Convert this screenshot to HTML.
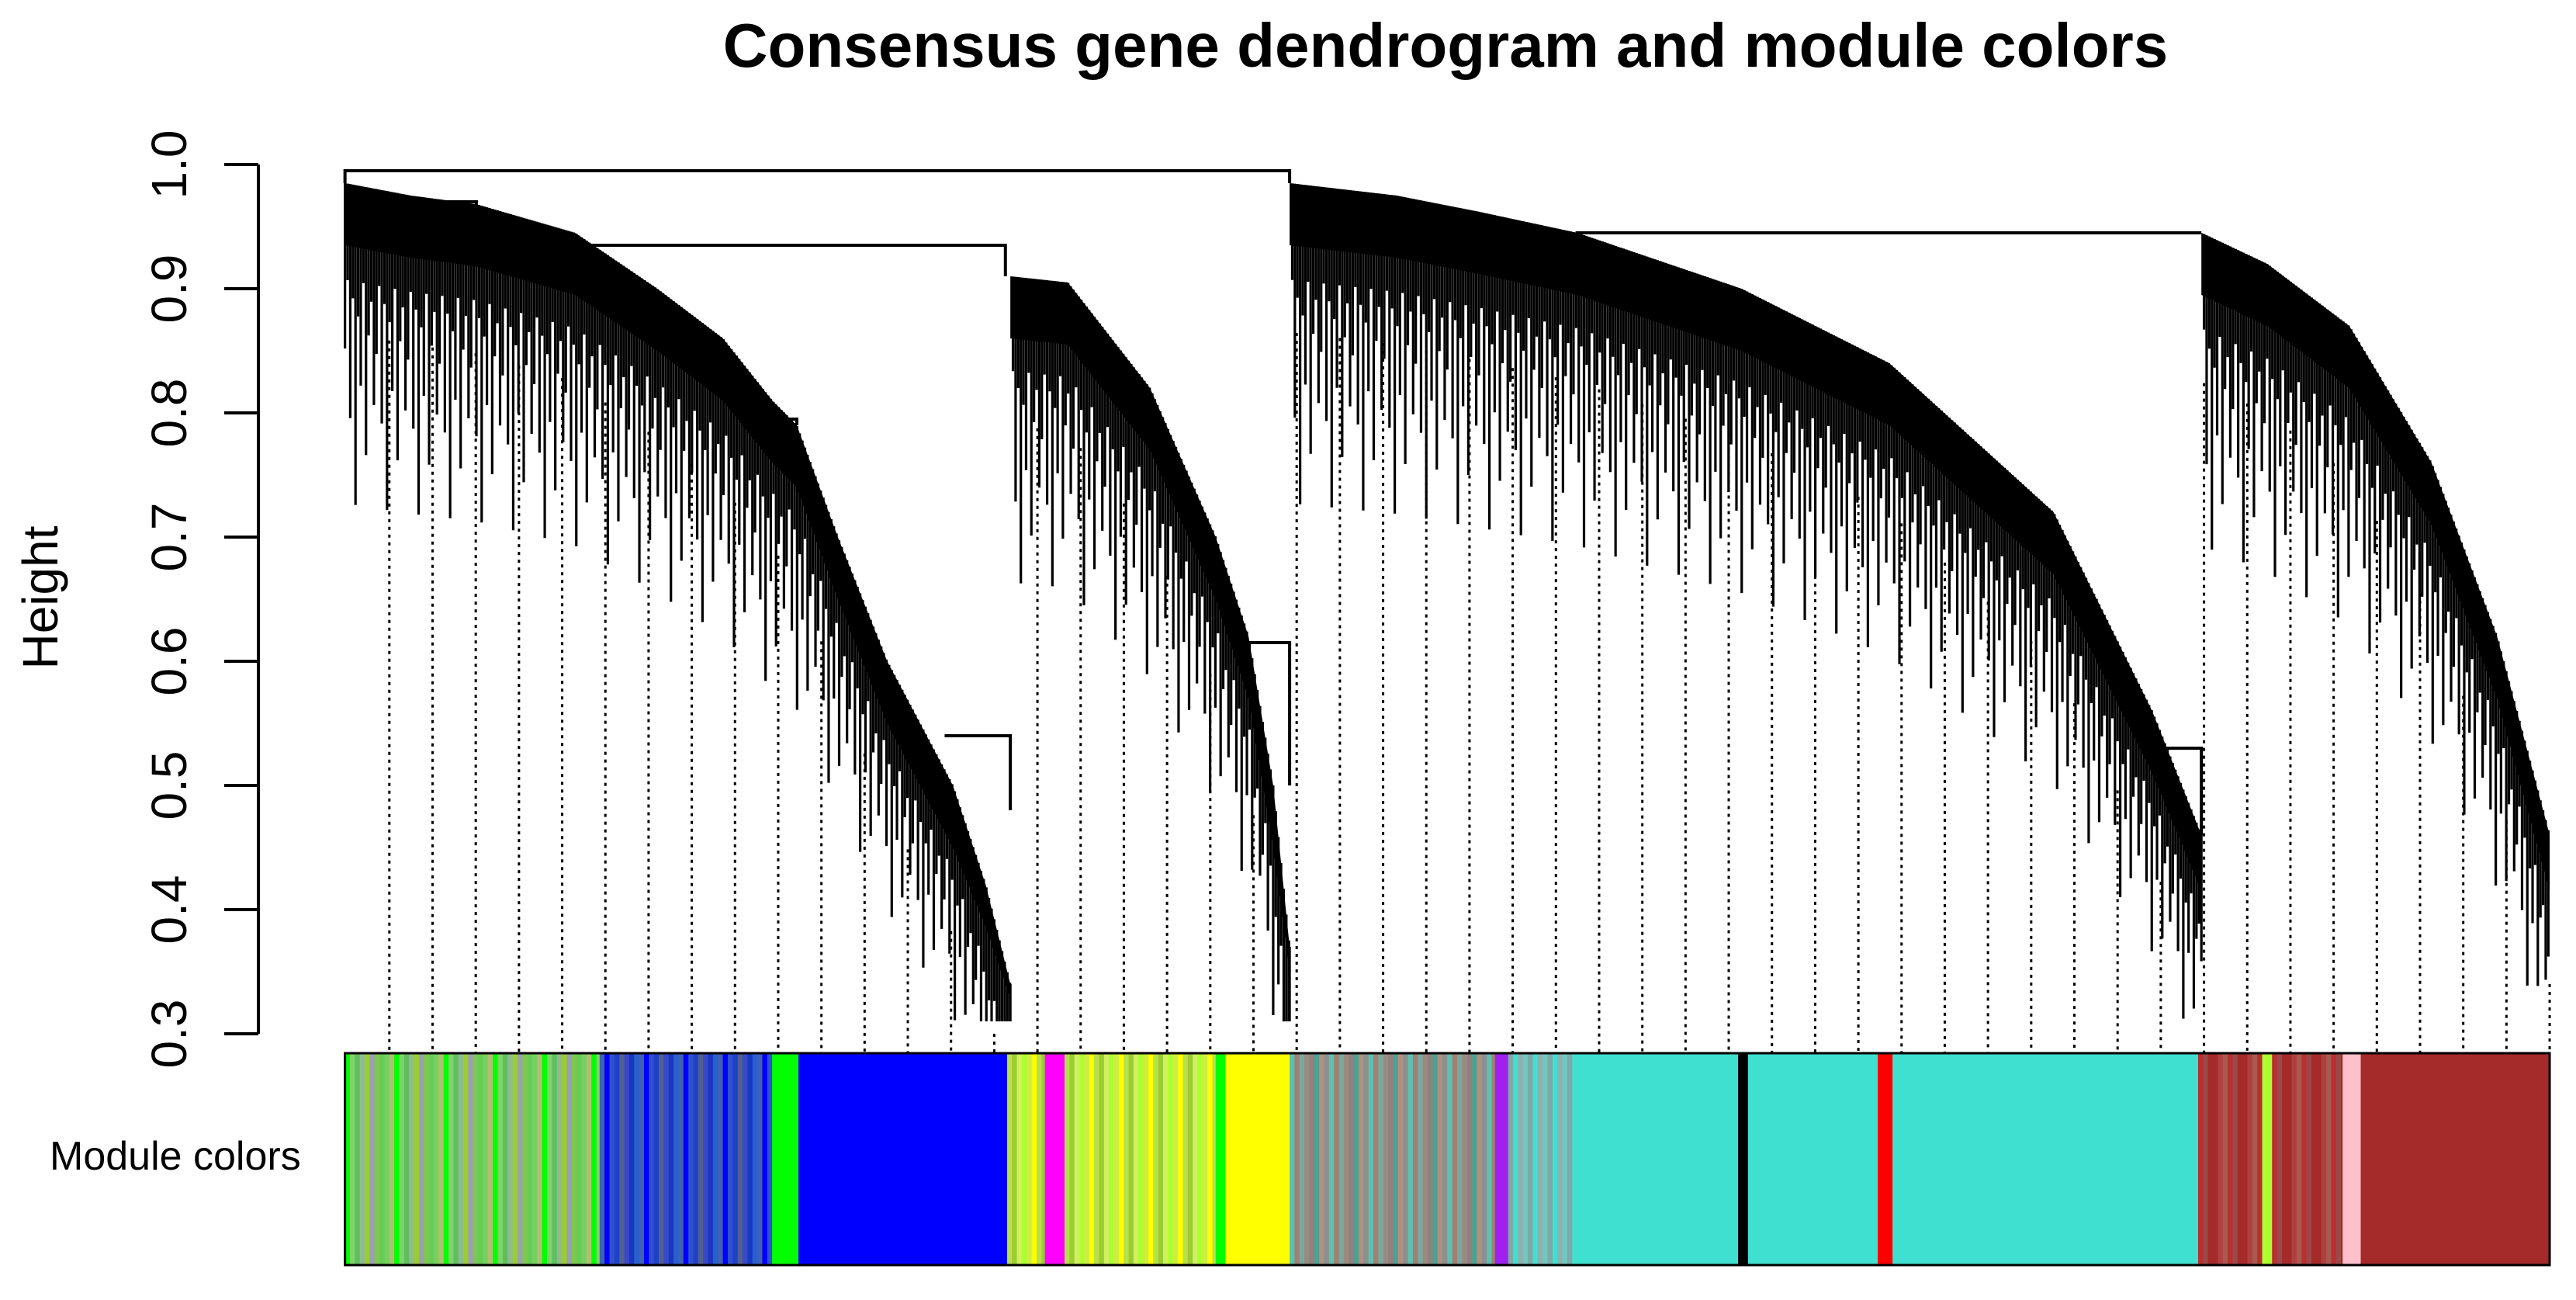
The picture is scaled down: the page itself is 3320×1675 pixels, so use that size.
<!DOCTYPE html>
<html><head><meta charset="utf-8"><style>
html,body{margin:0;padding:0;background:#fff;width:3320px;height:1675px;overflow:hidden}
svg{display:block}
text{font-family:"Liberation Sans",Arial,sans-serif;fill:#000}
</style></head><body>
<svg id="chart" width="3320" height="1675" viewBox="0 0 3320 1675" xmlns="http://www.w3.org/2000/svg">
<text x="1863" y="86" font-size="80" font-weight="bold" text-anchor="middle">Consensus gene dendrogram and module colors</text>
<text transform="translate(74,770) rotate(-90)" font-size="64" text-anchor="middle">Height</text>
<text x="64" y="1507" font-size="52">Module colors</text>
<g id="axis"></g>
<g id="dots"></g>
<g id="tree"></g>
<g id="bar"></g>
</svg>
<script>
// ---- data ----
const yTicks=[0.3,0.4,0.5,0.6,0.7,0.8,0.9,1.0];
const yTickLabels=["0.3","0.4","0.5","0.6","0.7","0.8","0.9","1.0"];
const clusterA=[[210,0.985],[250,0.975],[290,0.968],[350,0.945],[400,0.9],[440,0.86],[470,0.81],[485,0.79],[510,0.7],[540,0.6],[580,0.5],[600,0.42],[615,0.34]];
const clusterC=[[615,0.91],[650,0.905],[700,0.82],[740,0.7],[760,0.62],[775,0.5],[785,0.37]];
const clusterD=[[785,0.985],[850,0.975],[900,0.962],[960,0.945],[1060,0.9],[1150,0.84],[1250,0.72],[1310,0.56],[1340,0.46]];
const clusterE=[[1340,0.945],[1380,0.92],[1430,0.87],[1480,0.76],[1520,0.62],[1552,0.46]];
const merges=[[210,785,0.995,0.985,0.985],[360,612,0.935,0.93,0.91],[960,1340,0.945,0.94,0.945],[475,485,0.795,0.79,0.79],[575,615,0.54,0.54,0.48],[760,785,0.615,0.615,0.5],[1310,1340,0.53,0.53,0.46],[250,290,0.97,0.97,0.965]];
const hairPattern=[0.06,0.02,0.1,0.03,0.15,0.04,0.08,0.02,0.12,0.05,0.03,0.09];
const modules=[[210,365,"mixG"],[365,470,"mixB"],[470,486,"#00ff00"],[486,613,"#0000ff"],[613,636,"mixY"],[636,648,"#ff00ff"],[648,740,"mixY"],[740,746,"#00ff00"],[746,785,"#ffff00"],[785,910,"mixT"],[910,918,"#a020f0"],[918,960,"mixT2"],[960,1058,"#40e0d0"],[1058,1064,"#000000"],[1064,1143,"#40e0d0"],[1143,1152,"#ff0000"],[1152,1338,"#40e0d0"],[1338,1377,"mixR"],[1377,1383,"#adff2f"],[1383,1426,"mixR"],[1426,1437,"#ffc0cb"],[1437,1552,"#a52a2a"]];
const mixes={mixG:["#7fd36a","#9acd32","#66cc55","#00ff00","#8fbc8f","#7ec850","#b0c070","#5fbf5f","#9aa0b0","#76d060"],
 mixB:["#2040c8","#3050d0","#0000ff","#4060b0","#2a5fd0","#1838c0","#3a48c8","#506090"],
 mixY:["#adff2f","#ccee44","#ffff00","#b8e04a","#9acd32","#d0f060"],
 mixT:["#9a8a80","#7aa8a0","#a08070","#60c0b0","#8a9090","#b09080","#50a090","#908080"],
 mixT2:["#70c8c0","#90b0b0","#40e0d0","#80a8a8"],
 mixR:["#a52a2a","#b04040","#a85a50","#b83030","#9a4a4a","#a52a2a"]};
const guideX=[];for(let i=0;i<51;i++)guideX.push(237+i*26.3);

const sx=v=>v*2.1173;
const sy=h=>212+(1-h)*1600;
const NS="http://www.w3.org/2000/svg";
function mk(tag,attrs,parent){const e=document.createElementNS(NS,tag);for(const k in attrs)e.setAttribute(k,attrs[k]);parent.appendChild(e);return e;}

const ax=document.getElementById('axis');
mk('line',{x1:333,x2:333,y1:sy(1),y2:sy(0.3),stroke:'#000','stroke-width':4},ax);
yTicks.forEach((t,i)=>{
  const l=mk('line',{x1:289,x2:333,y1:sy(t),y2:sy(t),stroke:'#000','stroke-width':4},ax);
  
  
  const tx=mk('text',{transform:`translate(240,${sy(t)}) rotate(-90)`,'font-size':64,'text-anchor':'middle'},ax);
  tx.textContent=yTickLabels[i];
  
  
});

const clusters=[clusterA,clusterC,clusterD,clusterE];
function envAt(x){for(const c of clusters){if(x>=c[0][0]&&x<=c[c.length-1][0]){for(let i=0;i<c.length-1;i++){if(x>=c[i][0]&&x<=c[i+1][0]){const f=(x-c[i][0])/((c[i+1][0]-c[i][0])||1);return c[i][1]+f*(c[i+1][1]-c[i][1]);}}}}return 0.9;}

const dg=document.getElementById('dots');
guideX.forEach(x=>{
  const h=envAt(x)-0.12;
  const l=mk('line',{x1:sx(x),x2:sx(x),y1:sy(Math.max(h,0.3)),y2:1357,stroke:'#000','stroke-width':3,'stroke-dasharray':'4 6'},dg);
  
  
});

const tg=document.getElementById('tree');
clusters.forEach((c)=>{
  let top=c.map(p=>`${sx(p[0])},${sy(p[1])}`);
  let bot=c.slice().reverse().map(p=>`${sx(p[0])},${sy(p[1])+Math.min(80,(p[1]-0.3)*450)}`);
  const pg=mk('polygon',{points:top.concat(bot).join(' '),fill:'#000'},tg);
  
  
  const x0=c[0][0],x1=c[c.length-1][0];
  let k=0;
  for(let x=x0;x<=x1;x+=1.6){
    const h=envAt(x);
    const len=hairPattern[k%hairPattern.length]*(0.7+(h-0.3))+0.03;
    k++;
    const l=mk('line',{x1:sx(x),x2:sx(x),y1:sy(h),y2:sy(Math.max(h-len-0.02,0.31)),stroke:'#000','stroke-width':3.2},tg);
    
    
  }
});
merges.forEach(m=>{
  const p=mk('polyline',{points:`${sx(m[0])},${sy(m[3])} ${sx(m[0])},${sy(m[2])} ${sx(m[1])},${sy(m[2])} ${sx(m[1])},${sy(m[4])}`,fill:'none',stroke:'#000','stroke-width':4},tg);
  
  
});

const bg=document.getElementById('bar');
modules.forEach(s=>{
  if(mixes[s[2]]){
    const cols=mixes[s[2]];let i=0;
    for(let x=s[0];x<s[1];x+=3){
      const r=mk('rect',{x:sx(x),y:1357,width:sx(Math.min(3,s[1]-x))+0.6,height:273,fill:cols[(i*7+3)%cols.length]},bg);
      
      
      i++;
    }
  } else {
    const r=mk('rect',{x:sx(s[0]),y:1357,width:sx(s[1]-s[0])+0.6,height:273,fill:s[2]},bg);
    
    
  }
});
mk('rect',{x:sx(210),y:1357,width:sx(1552)-sx(210),height:273,fill:'none',stroke:'#000','stroke-width':3},bg);
</script>
</body></html>
